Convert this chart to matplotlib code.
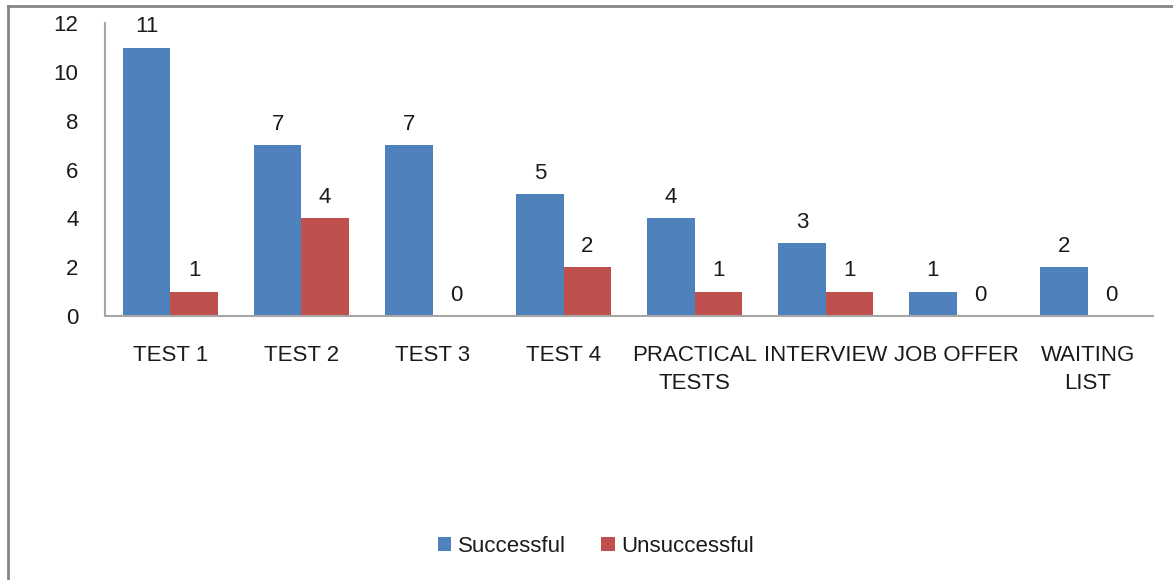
import matplotlib.pyplot as plt
import numpy as np
from matplotlib.lines import Line2D

plt.rcParams['font.family'] = ['Liberation Sans', 'DejaVu Sans']

stages = ['TEST 1', 'TEST 2', 'TEST 3', 'TEST 4', 'PRACTICAL\nTESTS',
          'INTERVIEW', 'JOB OFFER', 'WAITING\nLIST']
successful = [11, 7, 7, 5, 4, 3, 1, 2]
unsuccessful = [1, 4, 0, 2, 1, 1, 0, 0]

blue = '#4F81BD'
red = '#C0504D'
grey = '#A6A6A6'
txt = '#1a1a1a'

fig = plt.figure(figsize=(11.73, 5.8), dpi=100)
ax = fig.add_axes([0.0895, 0.455, 0.8935, 0.505])

x = np.arange(len(stages))
w = 0.36
b1 = ax.bar(x - w / 2, successful, w, color=blue, label='Successful')
b2 = ax.bar(x + w / 2, unsuccessful, w, color=red, label='Unsuccessful')

for bars, vals in ((b1, successful), (b2, unsuccessful)):
    for rect, v in zip(bars, vals):
        ax.text(rect.get_x() + rect.get_width() / 2, v + 0.42, str(v),
                ha='center', va='bottom', fontsize=16, color=txt)

ax.set_xlim(-0.5, len(stages) - 0.5)
ax.set_ylim(0, 12)
ax.set_yticks(range(0, 13, 2))
ax.set_xticks(x)
ax.set_xticklabels(stages, fontsize=16, linespacing=1.45, color=txt)
ax.tick_params(axis='y', labelsize=16, labelcolor=txt, length=0, pad=19)
ax.tick_params(axis='x', length=0, pad=21)

for s in ('top', 'right'):
    ax.spines[s].set_visible(False)
for s in ('left', 'bottom'):
    ax.spines[s].set_color(grey)
    ax.spines[s].set_linewidth(1.5)

fig.legend(handles=[b1, b2], loc='center', bbox_to_anchor=(0.508, 0.058),
           ncol=2, frameon=False, fontsize=16, handlelength=0.6,
           handleheight=0.6, handletextpad=0.3, columnspacing=1.6,
           labelcolor=txt)

# outer chart frame
fig.add_artist(Line2D([8 / 1173, 8 / 1173], [0, 1 - 6 / 580],
                      transform=fig.transFigure, color='#868686', lw=2))
fig.add_artist(Line2D([8 / 1173, 1], [1 - 6 / 580, 1 - 6 / 580],
                      transform=fig.transFigure, color='#868686', lw=2))

fig.savefig('out.png', dpi=100)
